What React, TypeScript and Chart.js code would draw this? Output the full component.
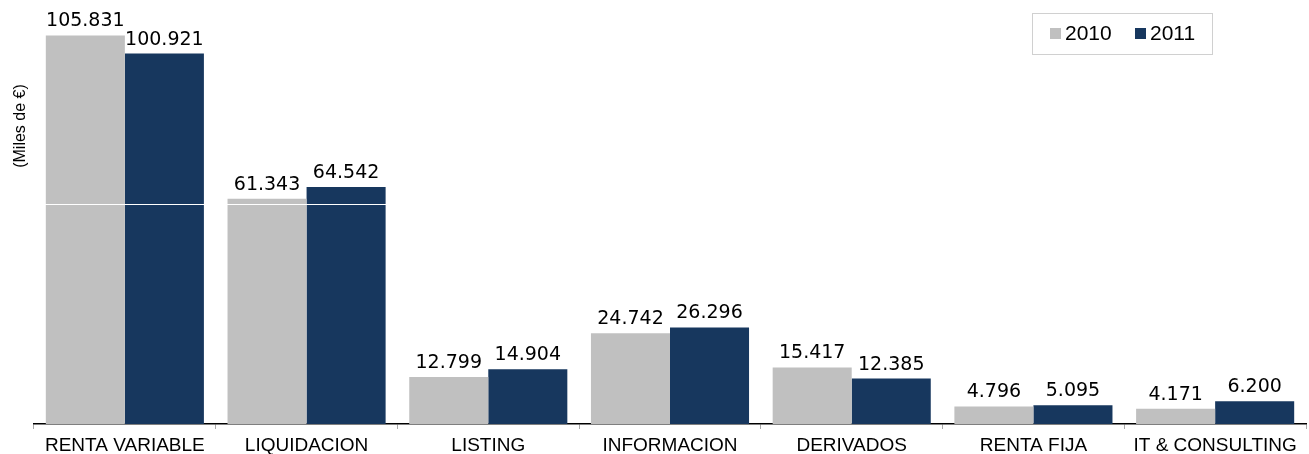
import React, { useEffect, useRef } from "react";
import { Chart, registerables } from "chart.js";

Chart.register(...registerables);

const categories = ["RENTA VARIABLE", "LIQUIDACION", "LISTING", "INFORMACION", "DERIVADOS", "RENTA FIJA", "IT & CONSULTING"];
const seriesNames = ["2010", "2011"];
const values2010 = [105831, 61343, 12799, 24742, 15417, 4796, 4171];
const values2011 = [100921, 64542, 14904, 26296, 12385, 5095, 6200];
const seriesColors = ["#C0C0C0", "#17375E"];
const yAxisTitle = "(Miles de €)";
const gridValues = [60000];

const fmt = (v: number) => {
  const s = String(Math.round(v));
  return s.replace(/\B(?=(\d{3})+(?!\d))/g, ".");
};

const labelsPlugin = {
  id: "customLabels",
  afterDatasetsDraw(chart: any) {
    const ctx = chart.ctx;
    const area = chart.chartArea;
    const ys = chart.scales.y;
    ctx.save();
    ctx.strokeStyle = "#FFFFFF";
    ctx.lineWidth = 1;
    gridValues.forEach((v) => {
      const py = Math.round(ys.getPixelForValue(v)) + 0.5;
      ctx.beginPath();
      ctx.moveTo(area.left, py);
      ctx.lineTo(area.right, py);
      ctx.stroke();
    });
    ctx.restore();

    ctx.save();
    ctx.font = "19px 'DejaVu Sans', Verdana, sans-serif";
    ctx.fillStyle = "#000";
    ctx.textAlign = "center";
    ctx.textBaseline = "alphabetic";
    chart.data.datasets.forEach((ds: any, i: number) => {
      const meta = chart.getDatasetMeta(i);
      meta.data.forEach((bar: any, j: number) => {
        ctx.fillText(fmt(ds.data[j]), bar.x, bar.y - 9);
      });
    });
    ctx.restore();
  },
  afterDraw(chart: any) {
    const ctx = chart.ctx;
    ctx.save();
    ctx.translate(21, 126);
    ctx.rotate(-Math.PI / 2);
    ctx.font = "16px 'Liberation Sans', Arial, sans-serif";
    ctx.fillStyle = "#000";
    ctx.textAlign = "center";
    ctx.textBaseline = "middle";
    ctx.fillText(yAxisTitle, 0, 0);
    ctx.restore();

    ctx.save();
    ctx.strokeStyle = "#D0D0D0";
    ctx.lineWidth = 1;
    ctx.strokeRect(1032.5, 13.5, 180, 41);
    ctx.font = "21px 'Liberation Sans', Arial, sans-serif";
    ctx.textAlign = "left";
    ctx.textBaseline = "alphabetic";
    const xs = [1050, 1135];
    seriesNames.forEach((n, i) => {
      ctx.fillStyle = seriesColors[i];
      ctx.fillRect(xs[i], 28, 11, 11);
      ctx.fillStyle = "#000";
      ctx.fillText(n, xs[i] + 15, 40);
    });
    ctx.restore();
  },
};

export default function App() {
  const ref = useRef<HTMLCanvasElement | null>(null);
  useEffect(() => {
    if (!ref.current) return;
    const chart = new Chart(ref.current, {
      type: "bar",
      data: {
        labels: categories,
        datasets: [
          { label: seriesNames[0], data: values2010, backgroundColor: seriesColors[0], categoryPercentage: 0.87, barPercentage: 1 },
          { label: seriesNames[1], data: values2011, backgroundColor: seriesColors[1], categoryPercentage: 0.87, barPercentage: 1 },
        ],
      },
      options: {
        responsive: false,
        animation: false,
        devicePixelRatio: 1,
        layout: { padding: { left: 34, right: 3, top: 0, bottom: -8 } },
        plugins: { legend: { display: false }, tooltip: { enabled: false } },
        scales: {
          x: {
            grid: { drawOnChartArea: false, tickLength: 5, tickColor: "#AAAAAA", offset: true },
            border: { display: true, color: "#000", width: 1.5 },
            ticks: {
              color: "#000",
              font: { family: "'Liberation Sans', Arial, sans-serif", size: 19, lineHeight: 1 },
              padding: 7,
              maxRotation: 0,
              autoSkip: false,
            },
          },
          y: {
            min: 0,
            max: 115500,
            ticks: { display: false, stepSize: 60000 },
            border: { display: false },
            grid: { display: false, drawTicks: false },
          },
        },
      },
      plugins: [labelsPlugin],
    });
    return () => chart.destroy();
  }, []);
  return (
    <div style={{ position: "absolute", left: 0, top: 0, width: 1309, height: 454, background: "#fff" }}>
      <canvas ref={ref} width={1309} height={454} style={{ width: 1309, height: 454, display: "block" }} />
    </div>
  );
}
